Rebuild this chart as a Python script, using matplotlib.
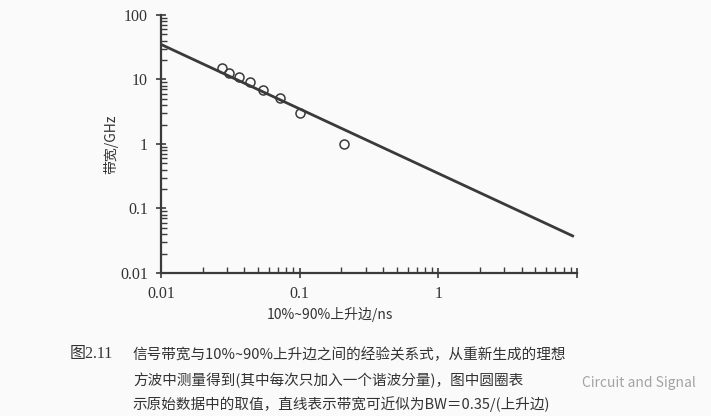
import numpy as np
import matplotlib.pyplot as plt
from matplotlib.ticker import LogLocator, FixedLocator, FixedFormatter, NullFormatter

plt.rcParams['font.family'] = ['Noto Sans CJK SC', 'DejaVu Sans']

# DATA
rise_time = [0.0274, 0.0311, 0.0367, 0.0442, 0.0542, 0.072, 0.101, 0.209]   # ns
bandwidth = [15.3, 12.7, 11.0, 9.0, 6.85, 5.1, 2.97, 1.0]                   # GHz
line_rt = [0.01, 9.5]
line_bw = [35.0, 0.0368]   # BW = 0.35 / RT
xticks = [0.01, 0.1, 1, 10]
xtick_labels = ['0.01', '0.1', '1', '']
yticks = [0.01, 0.1, 1, 10, 100]
ytick_labels = ['0.01', '0.1', '1', '10', '100']

caption = ['图2.11',
           '信号带宽与10%~90%上升边之间的经验关系式，从重新生成的理想',
           '方波中测量得到(其中每次只加入一个谐波分量)，图中圆圈表',
           '示原始数据中的取值，直线表示带宽可近似为BW＝0.35/(上升边)']

bg = '#fafafa'
ink = '#3a3a3a'

fig = plt.figure(figsize=(7.11, 4.16), dpi=100, facecolor=bg)
ax = fig.add_axes([0.2264, 0.3438, 0.5851, 0.6202])
ax.set_facecolor(bg)

ax.plot(line_rt, line_bw, color=ink, lw=2.0, solid_capstyle='butt')
ax.plot(rise_time, bandwidth, 'o', mfc='none', mec=ink, ms=6.5, mew=1.1)

ax.set_xscale('log')
ax.set_yscale('log')
ax.set_xlim(0.01, 10)
ax.set_ylim(0.01, 100)

ax.xaxis.set_major_locator(FixedLocator(xticks))
ax.xaxis.set_major_formatter(FixedFormatter(xtick_labels))
ax.yaxis.set_major_locator(FixedLocator(yticks))
ax.yaxis.set_major_formatter(FixedFormatter(ytick_labels))
ax.xaxis.set_minor_locator(LogLocator(base=10, subs=np.arange(2, 10)))
ax.yaxis.set_minor_locator(LogLocator(base=10, subs=np.arange(2, 10)))
ax.xaxis.set_minor_formatter(NullFormatter())
ax.yaxis.set_minor_formatter(NullFormatter())

for s in ['top', 'right']:
    ax.spines[s].set_visible(False)
for s in ['left', 'bottom']:
    ax.spines[s].set_color(ink)
    ax.spines[s].set_linewidth(1.6)

ax.tick_params(which='major', direction='inout', length=7, width=1.2, color=ink,
               labelsize=11.5, labelcolor='#333333', pad=6)
ax.tick_params(which='minor', direction='in', length=4, width=1.0, color=ink)
for lab in ax.get_xticklabels() + ax.get_yticklabels():
    lab.set_fontfamily('Liberation Serif')

ax.set_ylabel('带宽/GHz', fontsize=10, color='#333333', labelpad=1)
fig.text(0.464, 0.243, '10%~90%上升边/ns', fontsize=10, color='#333333',
         ha='center', va='center')

# caption
fig.text(0.098, 0.148, caption[0], fontsize=11.5, color='#333333',
         family=['Liberation Serif', 'Noto Sans CJK SC'], va='center')
fig.text(0.187, 0.148, caption[1], fontsize=10.5, color='#333333', va='center')
fig.text(0.187, 0.086, caption[2], fontsize=10.5, color='#333333', va='center')
fig.text(0.187, 0.028, caption[3], fontsize=10.5, color='#333333', va='center')

# watermark
fig.text(0.818, 0.079, 'Circuit and Signal', fontsize=10, color='#9a9a9a',
         va='center', alpha=0.9)

fig.savefig('out.png', dpi=100, facecolor=bg)
